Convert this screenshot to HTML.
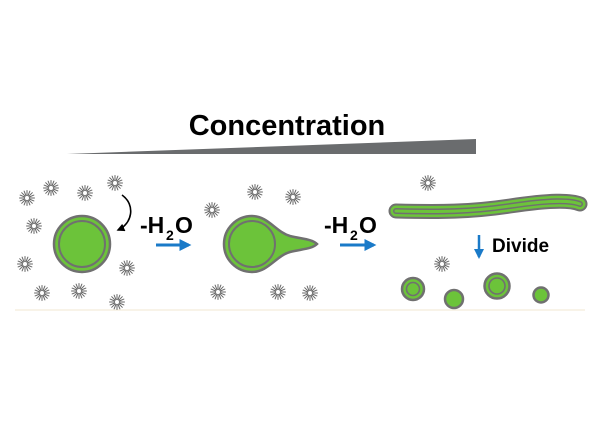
<!DOCTYPE html>
<html><head><meta charset="utf-8"><style>
body{margin:0;background:#fff;width:602px;height:432px;overflow:hidden}
text{font-family:"Liberation Sans",Arial,sans-serif;font-weight:bold;fill:#000}
</style></head><body>
<svg width="602" height="432" viewBox="0 0 602 432" xmlns="http://www.w3.org/2000/svg">
<defs>
<g id="m" stroke="#666" stroke-width="1" stroke-linecap="round">
<line x1="0" y1="-2.5" x2="0" y2="-7.5"/><line x1="0" y1="2.5" x2="0" y2="7.5"/>
<line x1="-2.5" y1="0" x2="-7.5" y2="0"/><line x1="2.5" y1="0" x2="7.5" y2="0"/>
<line x1="1.8" y1="1.8" x2="5.3" y2="5.3"/><line x1="-1.8" y1="-1.8" x2="-5.3" y2="-5.3"/>
<line x1="1.8" y1="-1.8" x2="5.3" y2="-5.3"/><line x1="-1.8" y1="1.8" x2="-5.3" y2="5.3"/>
<line x1="1" y1="2.3" x2="2.9" y2="6.9"/><line x1="-1" y1="-2.3" x2="-2.9" y2="-6.9"/>
<line x1="2.3" y1="-1" x2="6.9" y2="-2.9"/><line x1="-2.3" y1="1" x2="-6.9" y2="2.9"/>
<line x1="-1" y1="2.3" x2="-2.9" y2="6.9"/><line x1="1" y1="-2.3" x2="2.9" y2="-6.9"/>
<line x1="2.3" y1="1" x2="6.9" y2="2.9"/><line x1="-2.3" y1="-1" x2="-6.9" y2="-2.9"/>
</g>
<marker id="ab" viewBox="0 0 10 10" refX="8" refY="5" markerWidth="4" markerHeight="4" orient="auto"><path d="M0,0L10,5L0,10z" fill="#1a7ac8"/></marker>
<marker id="ak" viewBox="0 0 10 10" refX="8" refY="5" markerWidth="5" markerHeight="5" orient="auto"><path d="M0,0L10,5L0,10z" fill="#000"/></marker>
</defs>
<text x="287" y="135" font-size="29" text-anchor="middle">Concentration</text>
<polygon points="67,154 476,139 476,154" fill="#6a6c6e"/>
<line x1="15" y1="310" x2="585" y2="310" stroke="#f5efe0" stroke-width="1.5"/>
<g>
<use href="#m" x="27" y="198"/><use href="#m" x="51" y="188"/><use href="#m" x="85" y="193"/><use href="#m" x="115" y="183"/>
<use href="#m" x="34" y="226"/><use href="#m" x="25" y="264"/><use href="#m" x="42" y="293"/><use href="#m" x="79" y="291"/>
<use href="#m" x="127" y="268"/><use href="#m" x="117" y="302"/><use href="#m" x="212" y="210"/><use href="#m" x="255" y="192"/>
<use href="#m" x="293" y="197"/><use href="#m" x="218" y="292"/><use href="#m" x="278" y="292"/><use href="#m" x="428" y="183"/>
<use href="#m" x="442" y="264"/><use href="#m" x="310" y="293"/>
</g>
<circle cx="82" cy="244" r="28" fill="#6cc33a" stroke="#707070" stroke-width="2.5"/>
<circle cx="82" cy="244" r="23" fill="#6cc33a" stroke="#707070" stroke-width="2"/>
<path d="M122,195 C136,205 132,224 118,230" fill="none" stroke="#000" stroke-width="1.6" marker-end="url(#ak)"/>
<text x="140" y="233" font-size="23">-H</text><text x="166" y="240" font-size="14">2</text><text x="175" y="233" font-size="23">O</text>
<line x1="156" y1="245" x2="189" y2="245" stroke="#1a7ac8" stroke-width="3" marker-end="url(#ab)"/>
<path d="M252,216 C268,216 276,232 290,236 C302,239 312,239 317,244 C312,249 302,249 290,252 C276,256 268,272 252,272 A28,28 0 0 1 252,216z" fill="#6cc33a" stroke="#707070" stroke-width="2.5"/>
<circle cx="252" cy="244" r="23" fill="#6cc33a" stroke="#707070" stroke-width="2"/>
<text x="324" y="233" font-size="23">-H</text><text x="350" y="240" font-size="14">2</text><text x="359" y="233" font-size="23">O</text>
<line x1="340" y1="245" x2="374" y2="245" stroke="#1a7ac8" stroke-width="3" marker-end="url(#ab)"/>
<path d="M396,211 C440,212 470,212 510,206 C550,200 570,200 580,204" fill="none" stroke="#707070" stroke-width="15" stroke-linecap="round"/>
<path d="M396,211 C440,212 470,212 510,206 C550,200 570,200 580,204" fill="none" stroke="#6cc33a" stroke-width="11" stroke-linecap="round"/>
<path d="M396,211 C440,212 470,212 510,206 C550,200 570,200 580,204" fill="none" stroke="#707070" stroke-width="6" stroke-linecap="round"/>
<path d="M396,211 C440,212 470,212 510,206 C550,200 570,200 580,204" fill="none" stroke="#6cc33a" stroke-width="3" stroke-linecap="round"/>
<line x1="479" y1="235" x2="479" y2="257" stroke="#1a7ac8" stroke-width="2.5" marker-end="url(#ab)"/>
<text x="492" y="252" font-size="19">Divide</text>
<circle cx="413" cy="289" r="11" fill="#6cc33a" stroke="#707070" stroke-width="2.5"/>
<circle cx="413" cy="289" r="6.5" fill="#6cc33a" stroke="#707070" stroke-width="1.6"/>
<circle cx="454" cy="299" r="9" fill="#6cc33a" stroke="#707070" stroke-width="2.5"/>
<circle cx="497" cy="286" r="12.5" fill="#6cc33a" stroke="#707070" stroke-width="2.5"/>
<circle cx="497" cy="286" r="8" fill="#6cc33a" stroke="#707070" stroke-width="1.6"/>
<circle cx="541" cy="295" r="7.5" fill="#6cc33a" stroke="#707070" stroke-width="2.5"/>
</svg>
</body></html>
